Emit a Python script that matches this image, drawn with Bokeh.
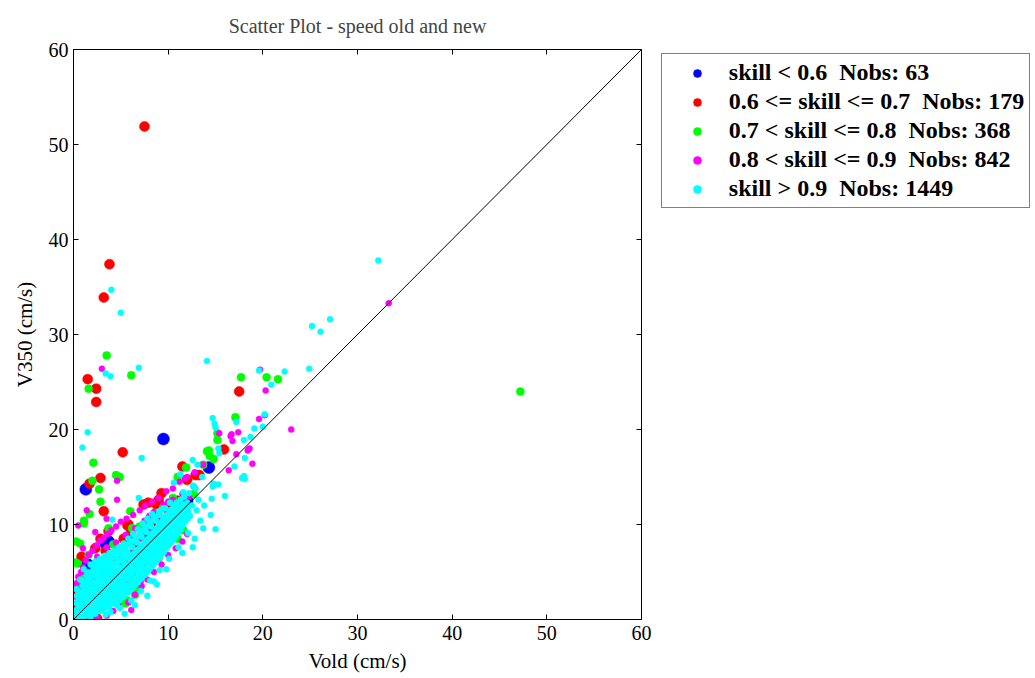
from bokeh.plotting import figure
from bokeh.models import Range1d, LinearAxis, FixedTicker, Legend, LegendItem
from bokeh.embed import file_html
from bokeh.resources import INLINE

# ---------------- data ----------------
x_ticks = [0, 10, 20, 30, 40, 50, 60]
y_ticks = [0, 10, 20, 30, 40, 50, 60]

labels = ["skill < 0.6  Nobs: 63",
          "0.6 <= skill <= 0.7  Nobs: 179",
          "0.7 < skill <= 0.8  Nobs: 368",
          "0.8 < skill <= 0.9  Nobs: 842",
          "skill > 0.9  Nobs: 1449"]
colors = ["#0000ff", "#ff0000", "#00ff00", "#ff00ff", "#00ffff"]

blue_pts = [(9.5, 19.0), (1.3, 13.7), (14.3, 16.0), (0.0, 1.0), (3.4, 8.0), (3.7, 8.2),
            (1.5, 5.8), (1.8, 4.3), (2.5, 3.0), (4.0, 4.5), (5.5, 6.0), (7.0, 7.0),
            (8.0, 9.0), (3.0, 2.0), (1.0, 1.5), (6.0, 4.5), (9.5, 10.0), (10.5, 11.0),
            (12.0, 12.5), (0.5, 0.3)]

red_pts = [(7.5, 51.9), (3.8, 37.4), (3.2, 33.9), (1.5, 25.3), (2.4, 24.3), (2.4, 22.9),
           (17.5, 24.0), (5.2, 17.6), (2.85, 14.9), (1.7, 14.3), (3.2, 11.4), (7.4, 12.1),
           (7.9, 12.3), (9.3, 13.3), (11.5, 16.1), (12.0, 14.7), (12.9, 15.2), (13.3, 15.2),
           (15.9, 17.9), (5.7, 9.9), (2.85, 8.5), (5.3, 8.5), (6.1, 8.9), (7.3, 8.9),
           (3.4, 7.2), (2.3, 7.5), (0.85, 6.6), (1.8, 4.8), (0.2, 3.3), (0.4, 3.1),
           (2.5, 0.1), (1.3, 0.1), (8.7, 12.2), (9.0, 12.6), (3.7, 9.3), (5.8, 10.0),
           (6.1, 9.3), (8.7, 11.2), (4.5, 6.5), (6.5, 7.5), (8.2, 10.0), (10.0, 11.6),
           (11.0, 12.5), (2.0, 3.5), (3.0, 5.0), (0.6, 1.5)]

green_pts = [(1.6, 24.3), (2.1, 16.5), (2.0, 14.6), (2.7, 13.7), (4.5, 15.2), (4.9, 15.0),
             (2.85, 12.4), (1.7, 11.1), (1.1, 10.4), (6.0, 11.4), (11.9, 16.0), (11.0, 15.0),
             (14.1, 17.7), (14.8, 16.9), (15.2, 18.9), (15.2, 19.6), (17.1, 21.3), (11.0, 8.5),
             (7.9, 5.7), (5.5, 1.7), (47.2, 24.0), (3.5, 27.8), (6.1, 25.7), (17.7, 25.5),
             (20.4, 25.5), (21.6, 25.3), (14.3, 17.8), (14.4, 17.2), (13.7, 16.3), (12.7, 13.2),
             (1.1, 10.1), (3.7, 9.6), (11.6, 9.4), (0.7, 8.0), (1.6, 6.8), (0.4, 5.9),
             (4.2, 7.9), (6.2, 9.6), (7.8, 5.8), (6.5, 2.6), (4.4, 1.9), (5.7, 2.0),
             (0.5, 3.8), (1.1, 4.8), (8.7, 11.2), (8.1, 10.3), (0.3, 8.2), (0.2, 6.0),
             (2.5, 5.5), (3.5, 6.5), (5.0, 7.5), (7.0, 9.8), (9.5, 11.8), (10.5, 12.8),
             (9.0, 6.5), (10.0, 8.0), (3.0, 1.2), (2.0, 0.5), (6.8, 3.2)]

magenta_pts = [(20.3, 24.1), (20.2, 21.5), (23.0, 20.0), (18.5, 17.9), (18.9, 16.4), (16.6, 19.3),
               (16.4, 15.7), (15.4, 19.6), (19.7, 26.3), (19.6, 21.1), (17.4, 19.7), (16.8, 18.8),
               (18.4, 17.8), (18.6, 18.0), (17.2, 17.4), (12.7, 14.0), (11.8, 14.9), (12.8, 15.5),
               (13.7, 16.3), (16.7, 19.5), (33.3, 33.3), (3.0, 26.4), (4.6, 14.6), (4.6, 12.6),
               (0.5, 9.9), (1.4, 11.5), (12.2, 12.9),
               (0.3, 3.8), (0.5, 4.5), (0.8, 5.0), (1.0, 5.5), (1.3, 6.2), (1.6, 6.8), (2.0, 7.2),
               (2.4, 7.8), (2.8, 8.3), (3.2, 8.6), (3.6, 9.0), (4.0, 9.4), (4.5, 9.8), (5.0, 10.3),
               (5.6, 10.6), (6.3, 11.0), (7.0, 11.5), (7.6, 12.0), (8.3, 12.4), (9.0, 12.8),
               (9.8, 13.5), (10.5, 13.8), (11.2, 14.5), (12.0, 15.0), (2.3, 9.2), (1.0, 7.5),
               (3.5, 10.6), (0.6, 0.0), (1.2, 0.1), (2.5, 0.2), (3.5, 0.4), (4.2, 0.9),
               (4.75, 1.6), (6.1, 1.0), (7.1, 4.0), (5.8, 1.8), (6.5, 2.6), (7.2, 3.5),
               (7.8, 4.2), (8.5, 5.0), (9.3, 5.8), (10.0, 6.8), (10.8, 7.5), (11.5, 8.2),
               (12.0, 9.0), (2.0, 3.0), (3.0, 4.5), (4.0, 5.0), (5.0, 6.5), (6.0, 7.0),
               (7.0, 8.5), (8.0, 9.5), (9.0, 10.5), (10.0, 11.5), (3.5, 2.5), (5.5, 4.0),
               (7.5, 6.0), (9.5, 8.0), (0.2, 2.0), (1.5, 2.5), (0.8, 3.0),
               (6.5, 9.6), (7.5, 10.4), (8.5, 11.3), (9.5, 12.1), (10.5, 12.6), (11.5, 13.2),
               (5.5, 8.9), (4.5, 8.1), (3.5, 7.6), (2.5, 6.6), (8.0, 10.9), (10.0, 12.4)]

cyan_pts = [(0.2, 0.3), (0.3, 1.0), (0.2, 1.8), (0.4, 2.5), (0.3, 3.2), (0.1, 0.8), (0.5, 0.2), (0.6, 1.4),
            (0.8, 0.5), (0.9, 1.2), (0.7, 2.0), (0.8, 2.8), (1.0, 3.5), (0.9, 0.1), (0.7, 4.2),
            (1.3, 0.4), (1.2, 1.1), (1.4, 1.8), (1.3, 2.4), (1.2, 3.1), (1.5, 3.8), (1.4, 4.6), (1.1, 5.3),
            (1.8, 0.3), (1.9, 1.0), (1.7, 1.6), (1.8, 2.3), (2.0, 2.9), (1.9, 3.6), (1.7, 4.3), (2.0, 5.0), (1.8, 5.8),
            (2.3, 0.6), (2.4, 1.3), (2.2, 2.0), (2.3, 2.7), (2.5, 3.3), (2.4, 4.0), (2.2, 4.6), (2.5, 5.3), (2.3, 6.1),
            (2.8, 0.9), (2.9, 1.6), (2.7, 2.3), (2.8, 3.0), (3.0, 3.6), (2.9, 4.3), (2.7, 5.0), (3.0, 5.6), (2.8, 6.4),
            (3.3, 1.2), (3.4, 1.9), (3.2, 2.6), (3.3, 3.3), (3.5, 3.9), (3.4, 4.6), (3.2, 5.3), (3.5, 5.9), (3.3, 6.7), (3.4, 0.5),
            (3.8, 1.4), (3.9, 2.1), (3.7, 2.8), (3.8, 3.5), (4.0, 4.2), (3.9, 4.9), (3.7, 5.6), (4.0, 6.3), (3.8, 7.0), (3.9, 0.8),
            (4.3, 1.7), (4.4, 2.4), (4.2, 3.1), (4.3, 3.8), (4.5, 4.5), (4.4, 5.2), (4.2, 5.9), (4.5, 6.6), (4.3, 7.3),
            (4.8, 2.0), (4.9, 2.7), (4.7, 3.4), (4.8, 4.1), (5.0, 4.8), (4.9, 5.5), (4.7, 6.2), (5.0, 6.9), (4.8, 7.6), (4.9, 1.2),
            (5.3, 2.4), (5.4, 3.1), (5.2, 3.8), (5.3, 4.5), (5.5, 5.2), (5.4, 5.9), (5.2, 6.6), (5.5, 7.3), (5.3, 8.0),
            (5.8, 2.9), (5.9, 3.6), (5.7, 4.3), (5.8, 5.0), (6.0, 5.7), (5.9, 6.4), (5.7, 7.1), (6.0, 7.8), (5.8, 8.5), (6.1, 2.0),
            (6.3, 3.4), (6.4, 4.1), (6.2, 4.8), (6.3, 5.5), (6.5, 6.2), (6.4, 6.9), (6.2, 7.6), (6.5, 8.3), (6.3, 9.0),
            (6.8, 3.9), (6.9, 4.6), (6.7, 5.3), (6.8, 6.0), (7.0, 6.7), (6.9, 7.4), (6.7, 8.1), (7.0, 8.8), (6.8, 9.5), (7.1, 3.0),
            (7.3, 4.5), (7.4, 5.2), (7.2, 5.9), (7.3, 6.6), (7.5, 7.3), (7.4, 8.0), (7.2, 8.7), (7.5, 9.4), (7.3, 10.1),
            (7.8, 5.0), (7.9, 5.7), (7.7, 6.4), (7.8, 7.1), (8.0, 7.8), (7.9, 8.5), (7.7, 9.2), (8.0, 9.9), (7.8, 10.6), (8.1, 4.1),
            (8.3, 5.6), (8.4, 6.3), (8.2, 7.0), (8.3, 7.7), (8.5, 8.4), (8.4, 9.1), (8.2, 9.8), (8.5, 10.5), (8.3, 11.1),
            (8.8, 6.2), (8.9, 6.9), (8.7, 7.6), (8.8, 8.3), (9.0, 9.0), (8.9, 9.7), (8.7, 10.4), (9.0, 11.0), (9.1, 5.2),
            (9.3, 6.9), (9.4, 7.6), (9.2, 8.3), (9.3, 9.0), (9.5, 9.7), (9.4, 10.4), (9.2, 11.1), (9.5, 11.7),
            (9.8, 7.5), (9.9, 8.2), (9.7, 8.9), (9.8, 9.6), (10.0, 10.3), (9.9, 11.0), (9.7, 11.7), (10.1, 6.4),
            (10.3, 8.1), (10.4, 8.8), (10.2, 9.5), (10.3, 10.2), (10.5, 10.9), (10.4, 11.6), (10.2, 12.3),
            (10.8, 8.8), (10.9, 9.5), (10.7, 10.2), (10.8, 10.9), (11.0, 11.6), (10.9, 12.3), (11.1, 7.6),
            (11.3, 9.5), (11.4, 10.2), (11.2, 10.9), (11.5, 11.7), (11.3, 12.6), (11.6, 13.4),
            (11.8, 10.3), (11.9, 11.0), (12.0, 11.8), (11.7, 12.9), (12.1, 9.1),
            (12.3, 10.9), (12.5, 12.0), (12.2, 13.3), (12.6, 14.1),
            (13.0, 11.5), (13.2, 12.6), (12.9, 13.8), (13.4, 10.4),
            (13.8, 12.0), (14.5, 11.0), (15.3, 14.2), (13.6, 15.0), (16.0, 13.0), (15.0, 9.5),
            (17.0, 16.1), (17.8, 14.9), (18.1, 14.8), (18.1, 17.0), (18.0, 18.9), (18.7, 19.2),
            (19.1, 20.1), (20.0, 20.3), (20.2, 21.6), (20.9, 24.7), (22.3, 26.1), (24.9, 26.4),
            (19.6, 26.2), (14.1, 27.2), (6.9, 26.5), (3.4, 25.9), (3.9, 25.6), (4.0, 34.7),
            (5.0, 32.3), (32.2, 37.8), (25.2, 30.9), (26.1, 30.3), (27.1, 31.6), (1.5, 19.7),
            (0.95, 18.1), (7.2, 17.0), (6.9, 12.8), (10.6, 14.4), (11.3, 15.3), (12.6, 16.8),
            (13.1, 16.3), (14.7, 21.2), (14.9, 20.6), (15.0, 20.2), (17.2, 20.8), (15.3, 18.0),
            (15.4, 17.5), (14.7, 14.0), (14.8, 14.3), (14.6, 12.7), (8.5, 4.0), (9.8, 5.3),
            (11.5, 7.0), (12.8, 8.5), (6.5, 1.5), (7.8, 2.5), (5.4, 0.6), (4.1, 10.5),
            (12.6, 7.6), (13.7, 9.6), (18.0, 15.1), (8.8, 3.7), (4.6, 1.5),
            (0.5, 0.6), (0.45, 1.6), (0.55, 2.3), (0.5, 3.0),
            (1.05, 0.8), (1.0, 1.5), (1.1, 2.2), (1.0, 2.9), (1.05, 4.0),
            (1.55, 0.7), (1.5, 1.4), (1.6, 2.0), (1.55, 2.7), (1.6, 3.3), (1.55, 4.2), (1.5, 5.0),
            (2.05, 0.9), (2.0, 1.7), (2.1, 2.4), (2.05, 3.2), (2.1, 3.9), (2.0, 4.6), (2.1, 5.5),
            (2.55, 1.0), (2.6, 1.9), (2.5, 2.5), (2.6, 3.1), (2.55, 3.8), (2.65, 4.5), (2.55, 5.8),
            (3.05, 1.3), (3.1, 2.1), (3.0, 2.8), (3.1, 3.5), (3.05, 4.2), (3.15, 4.9), (3.05, 6.2),
            (3.55, 1.6), (3.6, 2.4), (3.5, 3.1), (3.6, 3.7), (3.55, 4.4), (3.65, 5.2), (3.55, 6.5),
            (4.05, 1.9), (4.1, 2.7), (4.0, 3.4), (4.1, 4.0), (4.05, 4.8), (4.15, 5.5), (4.05, 6.9),
            (4.55, 2.2), (4.6, 3.0), (4.5, 3.7), (4.6, 4.3), (4.55, 5.1), (4.65, 5.9), (4.55, 7.1),
            (5.05, 2.5), (5.1, 3.3), (5.0, 4.0), (5.1, 4.6), (5.05, 5.4), (5.15, 6.2), (5.05, 7.4),
            (5.55, 2.9), (5.6, 3.6), (5.5, 4.3), (5.6, 5.0), (5.55, 5.7), (5.65, 6.5), (5.55, 7.8),
            (6.05, 3.3), (6.1, 4.0), (6.0, 4.6), (6.1, 5.3), (6.05, 6.0), (6.15, 6.8), (6.05, 8.2),
            (6.55, 3.7), (6.6, 4.4), (6.5, 5.1), (6.6, 5.8), (6.55, 6.5), (6.65, 7.3), (6.55, 8.6),
            (7.05, 4.2), (7.1, 4.9), (7.0, 5.6), (7.1, 6.3), (7.05, 7.0), (7.15, 7.7), (7.05, 9.1),
            (7.55, 4.7), (7.6, 5.4), (7.5, 6.1), (7.6, 6.8), (7.55, 7.6), (7.65, 8.3), (7.55, 9.7),
            (8.05, 5.3), (8.1, 6.0), (8.0, 6.7), (8.1, 7.4), (8.05, 8.1), (8.15, 8.9), (8.05, 10.2),
            (8.55, 5.9), (8.6, 6.6), (8.5, 7.3), (8.6, 8.0), (8.55, 8.8), (8.65, 9.5), (8.55, 10.8),
            (9.05, 6.5), (9.1, 7.2), (9.0, 8.0), (9.1, 8.7), (9.05, 9.4), (9.15, 10.1), (9.05, 11.4),
            (9.55, 7.1), (9.6, 7.9), (9.5, 8.6), (9.6, 9.3), (9.55, 10.0), (9.65, 10.8),
            (10.05, 7.8), (10.1, 8.5), (10.0, 9.2), (10.1, 9.9), (10.05, 10.7), (10.15, 11.4),
            (10.55, 8.4), (10.6, 9.1), (10.5, 9.9), (10.6, 10.6), (10.55, 11.3), (10.65, 12.0),
            (11.05, 9.1), (11.1, 9.8), (11.0, 10.5), (11.1, 11.2), (11.05, 12.0),
            (11.55, 9.9), (11.6, 10.6), (11.5, 11.3), (11.6, 12.1),
            (12.05, 10.6), (12.1, 11.4), (12.0, 12.3)]

series = [blue_pts, red_pts, green_pts, magenta_pts, cyan_pts]
sizes = [12, 10, 8, 6, 6]

FONT = "Liberation Serif"

p = figure(frame_width=568, frame_height=570, output_backend="svg", toolbar_location=None,
           x_range=Range1d(0, 60), y_range=Range1d(0, 60),
           min_border_left=73, min_border_right=0, min_border_top=48, min_border_bottom=60,
           title="Scatter Plot - speed old and new")
p.title.align = "center"
p.title.text_font = FONT
p.title.text_font_style = "normal"
p.title.text_font_size = "20px"
p.title.standoff = 25
p.grid.visible = False
p.outline_line_color = "#000000"
p.background_fill_color = "white"
p.border_fill_color = "white"

def style_axis(ax, ticks, show_labels=True):
    ax.ticker = FixedTicker(ticks=ticks)
    ax.major_tick_in = 5
    ax.major_tick_out = 0
    ax.minor_tick_line_color = None
    ax.axis_line_color = "#000000"
    ax.major_tick_line_color = "#000000"
    ax.major_label_text_font = FONT
    ax.major_label_text_font_size = "20px"
    ax.major_label_text_color = "#000000"
    ax.axis_label_text_font = FONT
    ax.axis_label_text_font_size = "21px"
    ax.axis_label_text_font_style = "normal"
    ax.axis_label_text_color = "#000000"
    if not show_labels:
        ax.major_label_overrides = {t: "" for t in ticks}
        ax.major_label_standoff = 0

style_axis(p.xaxis[0], x_ticks)
style_axis(p.yaxis[0], y_ticks)
p.xaxis[0].axis_label = "Vold (cm/s)"
p.yaxis[0].axis_label = "V350 (cm/s)"
p.xaxis[0].major_label_standoff = 6
p.yaxis[0].major_label_standoff = 5
p.xaxis[0].axis_label_standoff = 6
p.yaxis[0].axis_label_standoff = 9

top_ax = LinearAxis()
style_axis(top_ax, x_ticks, False)
p.add_layout(top_ax, "above")
right_ax = LinearAxis()
style_axis(right_ax, y_ticks, False)
p.add_layout(right_ax, "right")

items = []
for pts, col, sz, lab in zip(series, colors, sizes, labels):
    xs = [a for a, b in pts]
    ys = [b for a, b in pts]
    r = p.scatter(xs, ys, size=sz, fill_color=col, line_color=col, line_width=0.5)
    items.append(LegendItem(label=lab, renderers=[r]))

# diagonal 1:1 line drawn over the points
p.line([x_ticks[0], x_ticks[-1]], [y_ticks[0], y_ticks[-1]], line_color="#000000", line_width=1)

legend = Legend(items=items, location=(-200, 411))
legend.label_text_font = FONT
legend.label_text_font_style = "bold"
legend.label_text_font_size = "24px"
legend.label_text_color = "#000000"
legend.border_line_color = "#000000"
legend.border_line_width = 1
legend.padding = 5
legend.margin = 0
legend.glyph_width = 60
legend.glyph_height = 20
legend.label_height = 20
legend.label_standoff = 2
legend.spacing = 2
p.add_layout(legend, "right")

open("out.html", "w").write(file_html(p, INLINE))
